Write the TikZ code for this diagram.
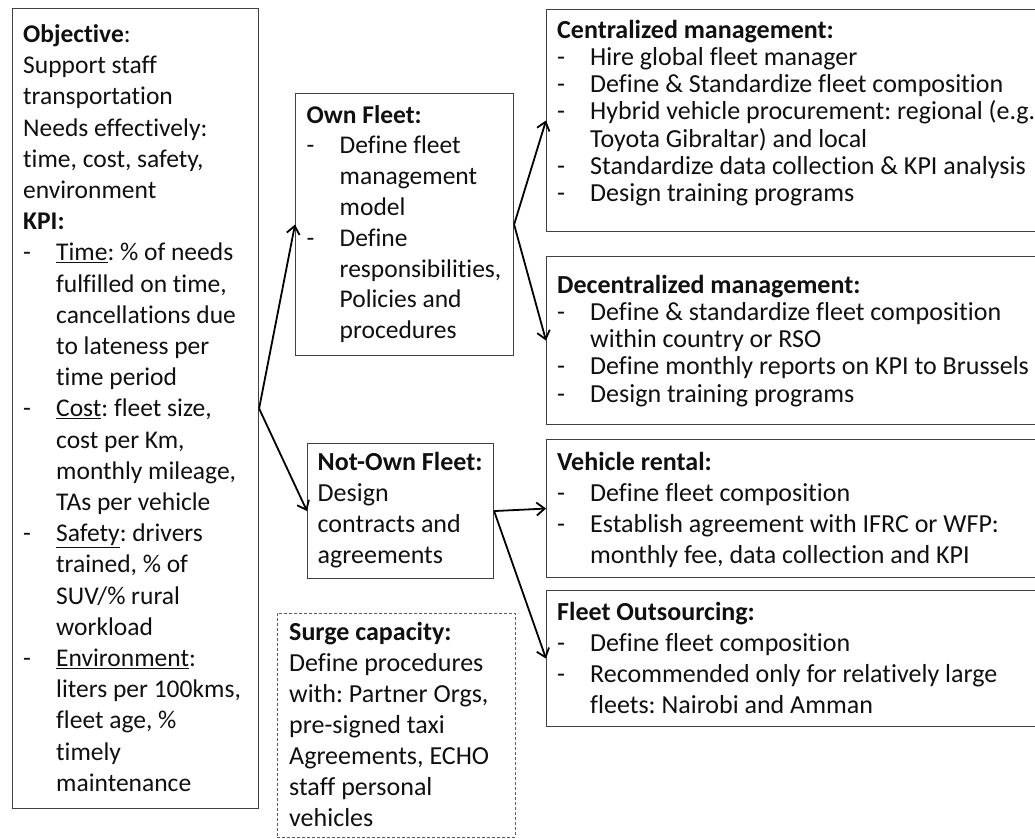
\documentclass[tikz,border=0pt]{standalone}
\usepackage{fontspec}
\setmainfont{Carlito}[Ligatures={NoCommon}]
\usetikzlibrary{arrows.meta}
\definecolor{boxgray}{HTML}{404040}
\definecolor{inkblack}{HTML}{101010}
\newlength{\bli}\setlength{\bli}{33pt}
\newcommand{\itemdash}{\makebox[\bli][l]{-}}
\newcommand{\itemcont}{\hspace*{\bli}}
\frenchspacing

\begin{document}
\begin{tikzpicture}[x=1pt,y=-1pt,
  box/.style={draw=boxgray, line width=1.1pt, anchor=north west, inner sep=0pt, fill=white},
  surgebox/.style={draw=boxgray!85, line width=0.8pt, dash pattern=on 3pt off 2pt,
    anchor=north west, inner sep=0pt},
  txt/.style={anchor=north west, inner sep=0pt, align=left, text=inkblack,
    font=\fontsize{25.5}{31.2}\selectfont},
  txtown/.style={txt, font=\fontsize{25.5}{30.8}\selectfont},
  txtr/.style={txt, font=\fontsize{26}{27.2}\selectfont},
  txtb/.style={txt, font=\fontsize{26}{31}\selectfont},
  arr/.style={draw=black, line width=1.8pt, -{Straight Barb[length=8pt,width=13pt]}}]

\fill[white] (0,0) rectangle (1035,838);
\useasboundingbox (0,0) rectangle (1035,838);
\clip (0,0) rectangle (1035,838);

% boxes
\node[box, minimum width=246pt, minimum height=800pt] (obj) at (12,8) {};
\node[box, minimum width=218pt, minimum height=262pt] (own) at (295,93) {};
\node[box, minimum width=186pt, minimum height=135pt] (notown) at (307,443) {};
\node[surgebox, minimum width=238pt, minimum height=224pt] (surge) at (277,613) {};
\node[box, minimum width=520pt, minimum height=222pt] (cent) at (546,9) {};
\node[box, minimum width=520pt, minimum height=168pt] (decent) at (546,256) {};
\node[box, minimum width=520pt, minimum height=138pt] (rental) at (546,439) {};
\node[box, minimum width=520pt, minimum height=136pt] (outs) at (546,590) {};

% texts
\node[txt] (objtext) at (23,20.5) {\strut\textbf{Objective}:\\
Support staff\\
transportation\\
Needs effectively:\\
time, cost, safety,\\
environment\\
\textbf{KPI:}\\
\itemdash\underline{Time}: \% of needs\\
\itemcont fulfilled on time,\\
\itemcont cancellations due\\
\itemcont to lateness per\\
\itemcont time period\\
\itemdash\underline{Cost}: fleet size,\\
\itemcont cost per Km,\\
\itemcont monthly mileage,\\
\itemcont TAs per vehicle\\
\itemdash\underline{Safety}: drivers\\
\itemcont trained, \% of\\
\itemcont SUV/\% rural\\
\itemcont workload\\
\itemdash\underline{Environment}:\\
\itemcont liters per 100kms,\\
\itemcont fleet age, \%\\
\itemcont timely\\
\itemcont maintenance};

\node[txtown] (owntext) at (306.5,101.4) {\strut\textbf{Own Fleet:}\\
\itemdash Define fleet\\
\itemcont management\\
\itemcont model\\
\itemdash Define\\
\itemcont responsibilities,\\
\itemcont Policies and\\
\itemcont procedures};

\node[txtb] (notowntext) at (317.5,448.3) {\strut\textbf{Not-Own Fleet:}\\
Design\\
contracts and\\
agreements};

\node[txtb] (surgetext) at (289,619) {\strut\textbf{Surge capacity:}\\
Define procedures\\
with: Partner Orgs,\\
pre-signed taxi\\
Agreements, ECHO\\
staff personal\\
vehicles};

\node[txtr] (centtext) at (557,19) {\strut\textbf{Centralized management:}\\
\itemdash Hire global fleet manager\\
\itemdash Define \& Standardize fleet composition\\
\itemdash Hybrid vehicle procurement: regional (e.g.\\
\itemcont Toyota Gibraltar) and local\\
\itemdash Standardize data collection \& KPI analysis\\
\itemdash Design training programs};

\node[txtr] (decenttext) at (557,274) {\strut\textbf{Decentralized management:}\\
\itemdash Define \& standardize fleet composition\\
\itemcont within country or RSO\\
\itemdash Define monthly reports on KPI to Brussels\\
\itemdash Design training programs};

\node[txtb] (rentaltext) at (557,448.3) {\strut\textbf{Vehicle rental:}\\
\itemdash Define fleet composition\\
\itemdash Establish agreement with IFRC or WFP:\\
\itemcont monthly fee, data collection and KPI};

\node[txtb] (outstext) at (557,598.3) {\strut\textbf{Fleet Outsourcing:}\\
\itemdash Define fleet composition\\
\itemdash Recommended only for relatively large\\
\itemcont fleets: Nairobi and Amman};

% connectors
\draw[arr] (obj.east) -- (own.west);
\draw[arr] (obj.east) -- (notown.west);
\draw[arr] (own.east) -- (cent.west);
\draw[arr] (own.east) -- (decent.west);
\draw[arr] (notown.east) -- (rental.west);
\draw[arr] (notown.east) -- (outs.west);
\end{tikzpicture}
\end{document}
